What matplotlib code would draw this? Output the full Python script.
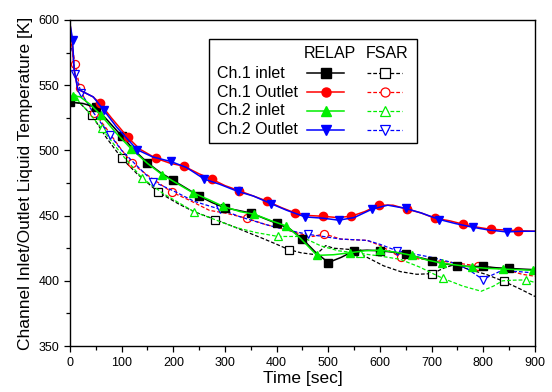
import matplotlib
matplotlib.use('Agg')
import matplotlib.pyplot as plt
from matplotlib.patches import Rectangle
from matplotlib.ticker import MultipleLocator

plt.rcParams['font.family'] = ['Liberation Sans', 'DejaVu Sans']

# RELAP results
rel_ch1_in_t = [0, 25, 50, 75, 100, 125, 150, 175, 200, 225, 250, 275, 300, 325, 350, 375,
                400, 425, 450, 475, 500, 525, 550, 575, 600, 625, 650, 675, 700, 725, 750,
                775, 800, 825, 850, 875, 900]
rel_ch1_in = [537, 536, 533, 522, 511, 500, 490.5, 483, 477, 471, 465, 460, 456, 454, 452, 448,
              444, 440, 432, 422, 414, 418, 423, 423.5, 423, 422, 420.5, 418, 415.5, 413, 411.5,
              411, 411, 410, 409.5, 409, 408.5]
rel_ch1_in_mk = [0, 50, 100, 150, 200, 250, 300, 350, 400, 450, 500, 550, 600, 650, 700, 750,
                 800, 850]

rel_ch1_out_t = [0, 3, 8, 15, 30, 45, 58, 80, 112, 135, 166, 195, 220, 250, 274, 300, 328, 355,
                 382, 410, 436, 465, 490, 517, 544, 570, 598, 625, 652, 680, 706, 735, 760, 790,
                 814, 840, 868, 900]
rel_ch1_out = [597, 588, 562, 547, 544, 541, 536, 525, 510, 501, 494, 490, 488, 482, 478, 473,
               469, 465, 461, 456, 452, 450, 449.5, 448.5, 449.5, 453, 458, 458, 455, 452, 448,
               446, 443.5, 441, 439.5, 439, 438.5, 438]
rel_ch1_out_mk = [58, 112, 166, 220, 274, 328, 382, 436, 490, 544, 598, 652, 706, 760, 814, 868]

rel_ch2_in_t = [0, 6, 20, 40, 60, 90, 119, 150, 178, 210, 238, 270, 297, 330, 357, 390, 419, 445,
                478, 510, 542, 570, 600, 630, 662, 690, 720, 750, 778, 810, 838, 870, 896, 900]
rel_ch2_in = [540, 542, 541, 535, 527, 513, 501, 490, 481.5, 474, 467.5, 462, 457, 453, 451, 446,
              442, 433, 419.5, 420, 421.5, 423, 423.5, 422, 419.5, 416, 413.5, 412, 410.5, 409.5,
              409, 408.5, 408, 408]
rel_ch2_in_mk = [6, 60, 119, 178, 238, 297, 357, 419, 478, 542, 600, 662, 720, 778, 838, 896]

rel_ch2_out_t = [0, 3, 5, 8, 15, 30, 45, 65, 90, 130, 160, 195, 225, 260, 290, 325, 355, 390, 420,
                 455, 490, 520, 550, 585, 615, 650, 680, 715, 745, 780, 810, 845, 875, 900]
rel_ch2_out = [597, 590, 585, 562, 547, 544, 541, 531, 518, 500.5, 495, 491.5, 487, 478, 474,
               468.5, 465, 459, 454, 449, 448, 446.5, 448.5, 455, 458, 455.5, 452, 447, 444, 441,
               439, 437.5, 438, 438]
rel_ch2_out_mk = [5, 65, 130, 195, 260, 325, 390, 455, 520, 585, 650, 715, 780, 845]

# FSAR results
fsar_ch1_in_t = [0, 20, 42, 70, 100, 130, 171, 210, 240, 281, 320, 351, 370, 400, 423, 447, 476,
                 495, 510, 543, 575, 607, 640, 671, 701, 725, 745, 770, 805, 840, 870, 900]
fsar_ch1_in = [538, 536, 527, 510, 494, 482, 468, 459, 453, 447, 441, 436, 433, 428, 424, 421.5,
               420, 427, 425, 424, 418, 411.5, 407, 405, 405.5, 410, 412.5, 409, 405, 399.5, 394,
               388]
fsar_ch1_in_mk = [42, 100, 171, 281, 423, 701, 840]

fsar_ch1_out_t = [0, 5, 10, 19, 30, 47, 70, 95, 120, 150, 197, 230, 270, 300, 342, 380, 420, 445,
                  470, 492, 524, 575, 601, 640, 670, 700, 740, 760, 789, 820, 850, 875, 900]
fsar_ch1_out = [586, 578, 566, 548, 538, 529, 517, 503, 490, 481, 468, 462, 454, 452, 448, 443,
                439, 436, 434, 436, 432, 431, 427, 418, 417, 416, 414, 413, 411.4, 410, 408, 405,
                403.5]
fsar_ch1_out_mk = [10, 19, 47, 120, 197, 342, 492, 640, 789]

fsar_ch2_in_t = [0, 9, 30, 61, 100, 139, 180, 210, 240, 280, 320, 360, 403, 447, 486, 520, 561,
                 600, 639, 677, 700, 721, 760, 796, 820, 837, 860, 883, 900]
fsar_ch2_in = [540, 540, 532, 517, 497, 479, 467, 460, 453, 447, 441, 437, 434, 434, 426.7, 423,
               421, 419, 416.5, 410.5, 406, 402, 396, 392, 396, 400, 400.5, 400.7, 398.7]
fsar_ch2_in_mk = [9, 61, 139, 240, 403, 561, 721, 883]

fsar_ch2_out_t = [0, 5, 10, 22, 40, 60, 77, 100, 130, 161, 200, 240, 291, 330, 380, 420, 461,
                  490, 524, 575, 600, 633, 660, 700, 740, 770, 799, 820, 834, 870, 900]
fsar_ch2_out = [583, 575, 558.5, 544, 532, 521, 512, 500, 488, 476, 469, 461, 454.8, 449, 443,
                439, 435.6, 434, 432, 431, 428, 423, 421, 418, 414, 409, 401, 405, 407.6, 407, 406]
fsar_ch2_out_mk = [10, 22, 77, 161, 291, 461, 633, 799]

labels = ['Ch.1 inlet', 'Ch.1 Outlet', 'Ch.2 inlet', 'Ch.2 Outlet']
colors = ['black', '#ff0000', '#00ee00', '#0000ff']
markers = ['s', 'o', '^', 'v']

relap = [(rel_ch1_in_t, rel_ch1_in, rel_ch1_in_mk),
         (rel_ch1_out_t, rel_ch1_out, rel_ch1_out_mk),
         (rel_ch2_in_t, rel_ch2_in, rel_ch2_in_mk),
         (rel_ch2_out_t, rel_ch2_out, rel_ch2_out_mk)]
fsar = [(fsar_ch1_in_t, fsar_ch1_in, fsar_ch1_in_mk),
        (fsar_ch1_out_t, fsar_ch1_out, fsar_ch1_out_mk),
        (fsar_ch2_in_t, fsar_ch2_in, fsar_ch2_in_mk),
        (fsar_ch2_out_t, fsar_ch2_out, fsar_ch2_out_mk)]

DASH = (0, (3, 1.6))

fig = plt.figure(figsize=(5.52, 3.92), dpi=100)
ax = fig.add_axes([0.1268, 0.1173, 0.8424, 0.8317])

for (t, y, mk), c, m in zip(fsar, colors, markers):
    idx = [t.index(v) for v in mk]
    ax.plot(t, y, color=c, lw=0.9, ls=DASH, marker=m, markevery=idx,
            ms=5.8, mfc='white', mec=c, mew=0.9)

for (t, y, mk), c, m in zip(relap, colors, markers):
    idx = [t.index(v) for v in mk]
    ax.plot(t, y, color=c, lw=1.1, ls='-', marker=m, markevery=idx,
            ms=6 if m != 's' else 5.5, mfc=c, mec=c)

ax.set_xlim(0, 900)
ax.set_ylim(350, 600)
ax.xaxis.set_major_locator(MultipleLocator(100))
ax.xaxis.set_minor_locator(MultipleLocator(50))
ax.yaxis.set_major_locator(MultipleLocator(50))
ax.yaxis.set_minor_locator(MultipleLocator(25))
ax.tick_params(which='major', direction='out', length=4.2, width=0.9, labelsize=9, pad=3.5)
ax.tick_params(which='minor', direction='out', length=3, width=0.9)
for s in ax.spines.values():
    s.set_linewidth(1.0)

ax.set_xlabel('Time [sec]', fontsize=12.5, labelpad=1.5)
ax.set_ylabel('Channel Inlet/Outlet Liquid Temperature [K]', fontsize=12.5, labelpad=4)

# custom two-column legend
tr = ax.transAxes
ax.add_patch(Rectangle((0.299, 0.623), 0.447, 0.319, transform=tr,
                       facecolor='white', edgecolor='black', lw=1.0, zorder=5))
ax.text(0.559, 0.896, 'RELAP', transform=tr, ha='center', va='center',
        fontsize=11.5, zorder=6)
ax.text(0.682, 0.896, 'FSAR', transform=tr, ha='center', va='center',
        fontsize=11.5, zorder=6)
rows = [0.837, 0.779, 0.721, 0.663]
for yy, lab, c, m in zip(rows, labels, colors, markers):
    ax.text(0.316, yy, lab, transform=tr, ha='left', va='center', fontsize=11.5, zorder=6)
    ax.plot([0.510, 0.589], [yy, yy], transform=tr, color=c, lw=1.1, zorder=6)
    ax.plot([0.5495], [yy], transform=tr, marker=m, ms=6.5, color=c, zorder=7)
    ax.plot([0.639, 0.714], [yy, yy], transform=tr, color=c, lw=0.9, ls=DASH, zorder=6)
    ax.plot([0.6765], [yy], transform=tr, marker=m, ms=6.5, mfc='white', mec=c,
            mew=0.9, zorder=7)

fig.savefig('out.png', dpi=100)
